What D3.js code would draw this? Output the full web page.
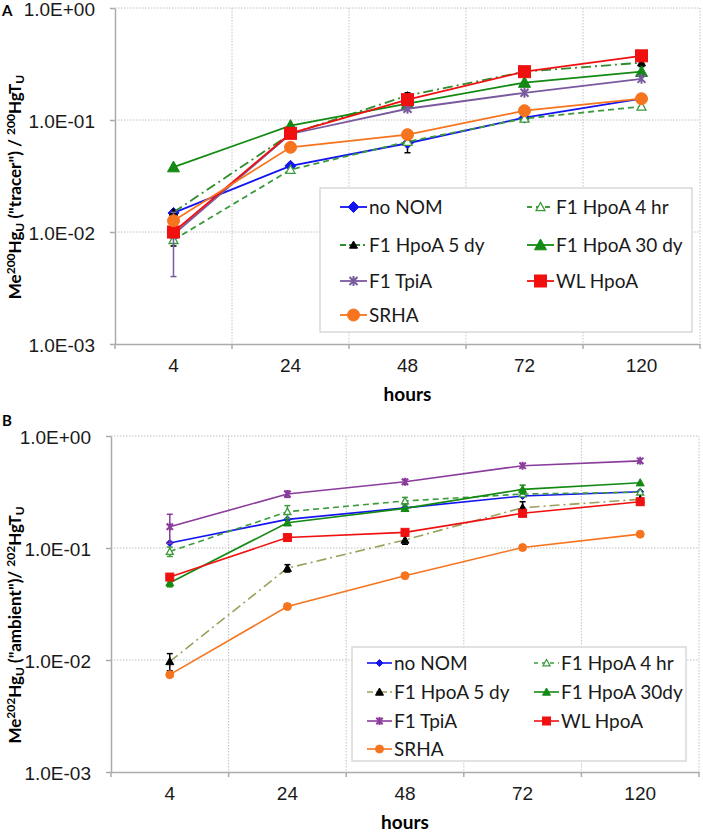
<!DOCTYPE html>
<meta charset="utf-8">
<style>
body { margin: 0; background: #fff; }
svg { font-family: Lato, "Open Sans", sans-serif; }
.grid line { stroke: #c2c2c2; stroke-width: 1px; stroke-dasharray: 1.5,1.5; }
.axis path, .axis line { stroke: #ababab; stroke-width: 1.5px; }
.axis text { font-size: 19px; fill: #1a1a1a; }
.legend text { font-size: 19px; fill: #1a1a1a; }
</style>
<svg width="703" height="835"></svg>
<script src="https://d3js.org/d3.v7.min.js"></script>
<script>
var hours = ["4", "24", "48", "72", "120"];
var yTicks = [1e-3, 1e-2, 1e-1, 1];

// panel A: tracer
var tracerNoNom    = [0.0148, 0.039, 0.062, 0.105, 0.155];
var tracerHpoa4hr  = [0.0085, 0.036, 0.064, 0.103, 0.132];
var tracerHpoa5dy  = [0.015, 0.075, 0.165, 0.27, 0.325];
var tracerHpoa30dy = [0.038, 0.089, 0.14, 0.216, 0.27];
var tracerTpia     = [0.0095, 0.075, 0.126, 0.175, 0.233];
var tracerWlHpoa   = [0.010, 0.076, 0.152, 0.27, 0.374];
var tracerSrha     = [0.0126, 0.057, 0.074, 0.121, 0.155];
// +/- error
var tracerErrNoNom = [0, 0, 0.011, 0.004, 0];
var tracerErr4hr   = [0.001, 0, 0, 0.006, 0];
var tracerErr5dy   = [0, 0, 0.01, 0, 0.025];
var tracerErrTpia  = [0.0055, 0, 0, 0, 0];

// panel B: ambient
var ambientNoNom    = [0.111, 0.18, 0.228, 0.291, 0.318];
var ambientHpoa4hr  = [0.093, 0.211, 0.263, 0.303, 0.315];
var ambientHpoa5dy  = [0.0097, 0.066, 0.118, 0.229, 0.272];
var ambientHpoa30dy = [0.049, 0.168, 0.226, 0.334, 0.383];
var ambientTpia     = [0.155, 0.303, 0.39, 0.543, 0.60];
var ambientWlHpoa   = [0.055, 0.124, 0.138, 0.204, 0.259];
var ambientSrha     = [0.0074, 0.030, 0.0566, 0.101, 0.133];
var ambientErr4hr   = [0.009, 0.028, 0.02, 0, 0];
var ambientErr5dy   = [0.0017, 0.005, 0.01, 0.03, 0];
var ambientErr30dy  = [0.004, 0, 0, 0.03, 0];
var ambientErrTpia  = [0.045, 0.02, 0.02, 0, 0];

var zeros = [0, 0, 0, 0, 0];

var svg = d3.select("svg");

function fmtE(v) {
  var e = Math.round(Math.log10(v));
  return "1.0E" + (e < 0 ? "-" : "+") + String(Math.abs(e)).padStart(2, "0");
}

function marker(g, type, s, fill, stroke) {
  var h = s / 2;
  if (type === "square") {
    g.append("rect").attr("x", -h).attr("y", -h).attr("width", s).attr("height", s)
      .attr("fill", fill).attr("stroke", stroke).attr("stroke-width", 1);
  } else if (type === "circle") {
    g.append("circle").attr("r", h).attr("fill", fill).attr("stroke", stroke).attr("stroke-width", 1);
  } else if (type === "diamond") {
    g.append("path").attr("d", "M0," + (-h) + "L" + h + ",0L0," + h + "L" + (-h) + ",0Z")
      .attr("fill", fill).attr("stroke", stroke).attr("stroke-width", 1);
  } else if (type === "triangle") {
    g.append("path").attr("d", "M0," + (-h) + "L" + h + "," + (h * 0.8) + "L" + (-h) + "," + (h * 0.8) + "Z")
      .attr("fill", fill).attr("stroke", stroke).attr("stroke-width", fill === "#fff" ? 1.3 : 1);
  } else if (type === "star") {
    var k = h * 0.8;
    g.append("path").attr("d", "M" + (-k) + "," + (-k) + "L" + k + "," + k + "M" + (-k) + "," + k + "L" + k + "," + (-k) + "M0," + (-h) + "L0," + h)
      .attr("fill", "none").attr("stroke", stroke).attr("stroke-width", 2);
  }
}

function panel(o) {
  var x = d3.scaleBand().domain(hours).range([o.left, o.right]);
  var y = d3.scaleLog().domain([1e-3, 1]).range([o.bottom, o.top]);
  var cx = function(i) { return x(hours[i]) + x.bandwidth() / 2; };

  var grid = svg.append("g").attr("class", "grid");
  grid.selectAll(".h").data(yTicks.slice(1)).enter().append("line")
    .attr("x1", o.left).attr("x2", o.right)
    .attr("y1", function(d) { return y(d); }).attr("y2", function(d) { return y(d); });
  var bounds = hours.map(function(h) { return x(h); }).slice(1).concat([o.right]);
  grid.selectAll(".v").data(bounds).enter().append("line")
    .attr("x1", function(d) { return d; }).attr("x2", function(d) { return d; })
    .attr("y1", o.top).attr("y2", o.bottom);

  var ya = svg.append("g").attr("class", "axis")
    .attr("transform", "translate(" + o.left + ",0)")
    .call(d3.axisLeft(y).tickValues(yTicks).tickFormat(fmtE).tickSize(5).tickPadding(15).tickSizeOuter(0));
  ya.selectAll(".tick text").attr("dy", "0.38em");

  var xa = svg.append("g").attr("class", "axis")
    .attr("transform", "translate(0," + o.bottom + ")")
    .call(d3.axisBottom(x).tickSize(0).tickPadding(15).tickSizeOuter(0));
  xa.selectAll(".tick line").remove();
  xa.selectAll(".bt").data([o.left].concat(bounds)).enter().append("line")
    .attr("x1", function(d) { return d; }).attr("x2", function(d) { return d; })
    .attr("y1", 0).attr("y2", 5);

  svg.append("text").attr("x", (o.left + o.right) / 2).attr("y", o.bottom + 57)
    .attr("text-anchor", "middle").attr("font-weight", "bold").attr("font-size", 19)
    .text("hours");

  svg.append("text").attr("x", 2).attr("y", o.tagY)
    .attr("font-weight", "bold").attr("font-size", 15).text(o.tag);

  var t = svg.append("text").attr("transform", "translate(" + o.titleX + "," + o.titleY + ") rotate(-90)")
    .attr("text-anchor", "middle").attr("font-weight", "bold").attr("font-size", o.titleSize);
  o.title.forEach(function(p) {
    var ts = t.append("tspan").text(p[0]);
    if (p[1]) ts.attr("font-size", 12).attr("baseline-shift", p[1] === "sub" ? "-3" : "6");
  });

  var line = d3.line().x(function(d) { return cx(d.i); }).y(function(d) { return y(d.v); });

  o.series.forEach(function(s) {
    var pts = s.values.map(function(v, i) { return { i: i, v: v }; });
    svg.append("path").datum(pts).attr("d", line)
      .attr("fill", "none").attr("stroke", s.color).attr("stroke-width", o.lw)
      .attr("stroke-dasharray", s.dash || null);
    var err = s.err || zeros;
    pts.forEach(function(p) {
      var e = err[p.i];
      if (!e) return;
      var eg = svg.append("g").attr("stroke", s.errColor || s.color).attr("stroke-width", 1.5);
      var y1 = y(Math.max(p.v - e, 1e-3)), y2 = y(p.v + e), xx = cx(p.i);
      eg.append("line").attr("x1", xx).attr("x2", xx).attr("y1", y1).attr("y2", y2);
      eg.append("line").attr("x1", xx - 3).attr("x2", xx + 3).attr("y1", y1).attr("y2", y1);
      eg.append("line").attr("x1", xx - 3).attr("x2", xx + 3).attr("y1", y2).attr("y2", y2);
    });
    pts.forEach(function(p) {
      var mg = svg.append("g").attr("transform", "translate(" + cx(p.i) + "," + y(p.v) + ")");
      marker(mg, s.sym, s.size, s.fill, s.mstroke || s.fill);
    });
  });

  var L = o.legend;
  var lg = svg.append("g").attr("class", "legend");
  lg.append("rect").attr("x", L.x).attr("y", L.y).attr("width", L.w).attr("height", L.h)
    .attr("fill", "#fff").attr("stroke", "#cfcfcf").attr("stroke-width", 1.2);
  o.series.forEach(function(s, k) {
    var col = k % 2, row = Math.floor(k / 2);
    var lx = L.cols[col], ly = L.rows[row];
    lg.append("line").attr("x1", lx).attr("x2", lx + L.lineLen).attr("y1", ly).attr("y2", ly)
      .attr("stroke", s.color).attr("stroke-width", o.lw).attr("stroke-dasharray", s.dash ? L.dash[s.dashKey] : null);
    var mg = lg.append("g").attr("transform", "translate(" + (lx + L.lineLen / 2) + "," + ly + ")");
    marker(mg, s.sym, s.size, s.fill, s.mstroke || s.fill);
    lg.append("text").attr("x", lx + L.lineLen + 2).attr("y", ly).attr("dy", "0.36em").text(s.name);
  });
}

panel({
  tag: "A", tagY: 16, left: 115, right: 700, top: 8, bottom: 344, lw: 1.8,
  titleX: 21, titleY: 187, titleSize: 17,
  title: [["Me"], ["200", "super"], ["Hg"], ["U", "sub"], [" (\"tracer\") / "], ["200", "super"], ["HgT"], ["U", "sub"]],
  legend: { x: 320, y: 188, w: 372, h: 144, cols: [340, 527], rows: [207, 245, 281, 315], lineLen: 27,
            dash: { d: "5,4", dd: "6,3,2,3" } },
  series: [
    { name: "no NOM", values: tracerNoNom, err: tracerErrNoNom, errColor: "#000", color: "#1414f0", sym: "diamond", size: 11, fill: "#1414f0" },
    { name: "F1 HpoA 4 hr", values: tracerHpoa4hr, err: tracerErr4hr, errColor: "#000", color: "#3c9a3c", dash: "6,4", dashKey: "d", sym: "triangle", size: 9, fill: "#fff", mstroke: "#3c9a3c" },
    { name: "F1 HpoA 5 dy", values: tracerHpoa5dy, err: tracerErr5dy, errColor: "#000", color: "#2e8b2e", dash: "10,4,2,4", dashKey: "dd", sym: "triangle", size: 8, fill: "#000" },
    { name: "F1 HpoA 30 dy", values: tracerHpoa30dy, color: "#138a13", sym: "triangle", size: 12, fill: "#138a13" },
    { name: "F1 TpiA", values: tracerTpia, err: tracerErrTpia, color: "#7a5a9e", sym: "star", size: 10, fill: "#7a5a9e" },
    { name: "WL HpoA", values: tracerWlHpoa, color: "#f01010", sym: "square", size: 12, fill: "#f01010" },
    { name: "SRHA", values: tracerSrha, color: "#f7741e", sym: "circle", size: 12, fill: "#f7741e" }
  ]
});

panel({
  tag: "B", tagY: 426, left: 111, right: 699, top: 436, bottom: 772, lw: 1.6,
  titleX: 21, titleY: 625, titleSize: 17,
  title: [["Me"], ["202", "super"], ["Hg"], ["U", "sub"], [" (\"ambient\")/ "], ["202", "super"], ["HgT"], ["U", "sub"]],
  legend: { x: 352, y: 647, w: 334, h: 114, cols: [367, 534], rows: [663, 692, 721, 749], lineLen: 25,
            dash: { d: "4,4", dd: "6,3,2,3" } },
  series: [
    { name: "no NOM", values: ambientNoNom, color: "#1414f0", sym: "diamond", size: 7, fill: "#1414f0" },
    { name: "F1 HpoA 4 hr", values: ambientHpoa4hr, err: ambientErr4hr, color: "#3c9a3c", dash: "6,4", dashKey: "d", sym: "triangle", size: 7, fill: "#fff", mstroke: "#3c9a3c" },
    { name: "F1 HpoA 5 dy", values: ambientHpoa5dy, err: ambientErr5dy, errColor: "#000", color: "#9ba05a", dash: "10,4,2,4", dashKey: "dd", sym: "triangle", size: 8, fill: "#000" },
    { name: "F1 HpoA 30dy", values: ambientHpoa30dy, err: ambientErr30dy, color: "#138a13", sym: "triangle", size: 8, fill: "#138a13" },
    { name: "F1 TpiA", values: ambientTpia, err: ambientErrTpia, color: "#8a3c9c", sym: "star", size: 8, fill: "#8a3c9c" },
    { name: "WL HpoA", values: ambientWlHpoa, color: "#f01010", sym: "square", size: 8, fill: "#f01010" },
    { name: "SRHA", values: ambientSrha, color: "#f7741e", sym: "circle", size: 8, fill: "#f7741e" }
  ]
});
</script>
